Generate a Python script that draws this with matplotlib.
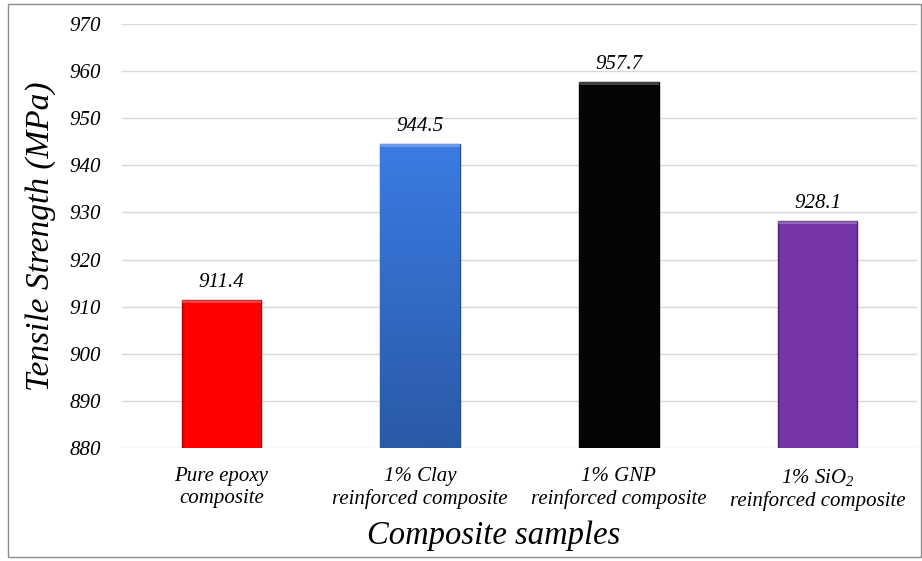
import numpy as np
import matplotlib
matplotlib.use("Agg")
from matplotlib import pyplot as plt
from matplotlib.patches import Rectangle

samples = [
    "Pure epoxy\ncomposite",
    "1% Clay\nreinforced composite",
    "1% GNP\nreinforced composite",
    "1% SiO$_{\\mathit{2}}$\nreinforced composite",
]
strength = [911.4, 944.5, 957.7, 928.1]
value_labels = ["911.4", "944.5", "957.7", "928.1"]
y_ticks = [880, 890, 900, 910, 920, 930, 940, 950, 960, 970]

bar_colors = ["#FF0000", "#3573DA", "#050505", "#7635A6"]
edge_colors = ["#B00000", "#1F4C94", "#000000", "#4E1F75"]

plt.rcParams["font.family"] = ["Liberation Serif", "DejaVu Serif"]
plt.rcParams["font.style"] = "italic"
plt.rcParams["mathtext.fontset"] = "custom"
plt.rcParams["mathtext.rm"] = "Liberation Serif:italic"
plt.rcParams["mathtext.it"] = "Liberation Serif:italic"

fig = plt.figure(figsize=(9.22, 5.61), dpi=100)
ax = fig.add_axes([0.1323, 0.2014, 0.8623, 0.7558])

x = np.arange(len(samples))
bars = ax.bar(x, strength, width=0.4, bottom=0, color=bar_colors,
              edgecolor=edge_colors, linewidth=1.0, zorder=3)

# blue bar has a vertical gradient
blue = bars[1]
grad = np.linspace(0, 1, 256).reshape(-1, 1)
cmap = matplotlib.colors.LinearSegmentedColormap.from_list(
    "blu", ["#2A59A6", "#3B7BE2"])
img = ax.imshow(grad, cmap=cmap, aspect="auto", origin="lower",
                extent=(blue.get_x(), blue.get_x() + blue.get_width(),
                        880, strength[1]), zorder=3.5)
img.set_clip_path(blue)

# light bevel at the top of each bar
for b in bars:
    ax.add_patch(Rectangle((b.get_x(), b.get_height() - 0.6), b.get_width(), 0.6,
                           facecolor="white", alpha=0.25, edgecolor="none", zorder=4))

for xi, v, lab in zip(x, strength, value_labels):
    ax.annotate(lab, (xi, v), xytext=(0, 6), textcoords="offset points",
                ha="center", va="bottom", fontsize=15, zorder=5)

ax.set_xlim(-0.5, 3.5)
ax.set_ylim(880, 970)
ax.set_yticks(y_ticks)
ax.set_xticks(x)
ax.set_xticklabels(samples, fontsize=15, linespacing=1.2)
ax.tick_params(axis="y", labelsize=15, length=0, pad=15)
ax.tick_params(axis="x", length=0, pad=14)
ax.grid(axis="y", color="#D9D9D9", linewidth=1.0, zorder=0)
for s in ax.spines.values():
    s.set_visible(False)

ax.set_ylabel("Tensile Strength (MPa)", fontsize=24, labelpad=10)
ax.set_xlabel("Composite samples", fontsize=23.5)
ax.xaxis.set_label_coords(0.467, -0.172)

fig.patches.append(Rectangle((8 / 922, 4 / 561), 913 / 922, 553 / 561,
                             transform=fig.transFigure, fill=False,
                             edgecolor="#8C8C8C", linewidth=1.0))

fig.savefig("out.png", dpi=100)
